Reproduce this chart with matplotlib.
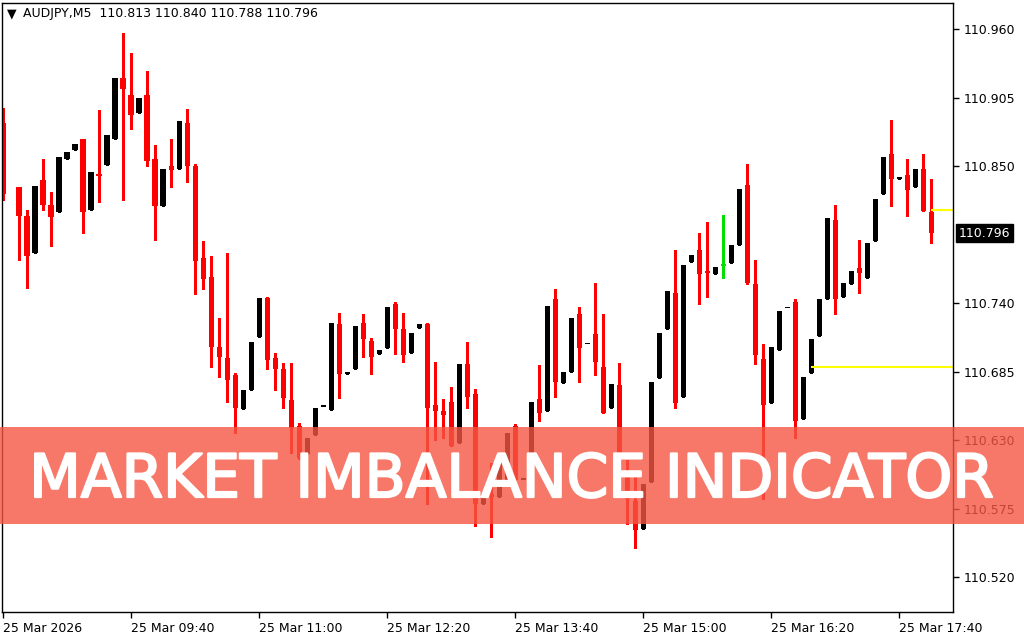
import numpy as np
import matplotlib
matplotlib.use('Agg')
import matplotlib.pyplot as plt
import matplotlib.patheffects as pe
from matplotlib.patches import Rectangle
from matplotlib.transforms import blended_transform_factory

# Chart header / axis texts
symbol = 'AUDJPY,M5'
banner_title = 'MARKET IMBALANCE INDICATOR'
time_labels = ['25 Mar 2026', '25 Mar 09:40', '25 Mar 11:00', '25 Mar 12:20',
               '25 Mar 13:40', '25 Mar 15:00', '25 Mar 16:20', '25 Mar 17:40']
time_label_bars = [0, 16, 32, 48, 64, 80, 96, 112]
price_ticks = [110.520, 110.575, 110.630, 110.685, 110.740, 110.850, 110.905, 110.960]

# M5 candles (bar 1 is empty on the chart)
opens = [110.885, np.nan, 110.833, 110.810, 110.780, 110.839, 110.819, 110.813, 110.856, 110.863,
         110.872, 110.815, 110.844, 110.851, 110.872, 110.921, 110.907, 110.893, 110.907, 110.856,
         110.818, 110.850, 110.848, 110.885, 110.850, 110.776, 110.761, 110.705, 110.696, 110.682,
         110.655, 110.670, 110.713, 110.744, 110.696, 110.687, 110.662, 110.641, 110.619, 110.634,
         110.657, 110.654, 110.723, 110.683, 110.687, 110.724, 110.710, 110.699, 110.704, 110.739,
         110.719, 110.700, 110.720, 110.723, 110.658, 110.653, 110.661, 110.628, 110.691, 110.667,
         110.579, 110.587, 110.584, 110.598, 110.641, 110.598, 110.603, 110.663, 110.653, 110.743,
         110.676, 110.685, 110.731, 110.707, 110.715, 110.689, 110.656, 110.674, 110.600, 110.581,
         110.559, 110.596, 110.680, 110.719, 110.748, 110.665, 110.773, 110.783, 110.766, 110.763,
         110.770, 110.772, 110.787, 110.835, 110.755, 110.695, 110.660, 110.702, 110.736, 110.741,
         110.647, 110.684, 110.714, 110.743, 110.807, 110.745, 110.755, 110.768, 110.760, 110.790,
         110.828, 110.860, 110.840, 110.843, 110.833, 110.848, 110.813]
highs = [110.897, np.nan, 110.833, 110.815, 110.834, 110.856, 110.829, 110.857, 110.861, 110.868,
         110.872, 110.845, 110.895, 110.875, 110.921, 110.957, 110.941, 110.905, 110.926, 110.867,
         110.848, 110.872, 110.886, 110.896, 110.852, 110.790, 110.778, 110.728, 110.780, 110.684,
         110.670, 110.709, 110.744, 110.745, 110.700, 110.692, 110.692, 110.644, 110.632, 110.656,
         110.657, 110.724, 110.732, 110.685, 110.722, 110.731, 110.712, 110.702, 110.737, 110.741,
         110.732, 110.716, 110.723, 110.724, 110.693, 110.663, 110.673, 110.691, 110.709, 110.671,
         110.587, 110.612, 110.616, 110.636, 110.643, 110.598, 110.661, 110.690, 110.738, 110.751,
         110.685, 110.728, 110.737, 110.707, 110.756, 110.731, 110.675, 110.692, 110.614, 110.600,
         110.595, 110.677, 110.716, 110.750, 110.783, 110.771, 110.779, 110.796, 110.805, 110.769,
         110.811, 110.787, 110.832, 110.852, 110.775, 110.707, 110.705, 110.734, 110.736, 110.743,
         110.681, 110.711, 110.743, 110.808, 110.819, 110.756, 110.766, 110.791, 110.788, 110.824,
         110.857, 110.887, 110.841, 110.856, 110.848, 110.860, 110.840]
lows = [110.823, np.nan, 110.775, 110.752, 110.780, 110.815, 110.786, 110.813, 110.856, 110.863,
        110.796, 110.815, 110.821, 110.851, 110.872, 110.823, 110.880, 110.893, 110.850, 110.791,
        110.818, 110.833, 110.848, 110.837, 110.747, 110.751, 110.689, 110.681, 110.661, 110.636,
        110.655, 110.670, 110.713, 110.687, 110.670, 110.656, 110.620, 110.615, 110.619, 110.634,
        110.657, 110.654, 110.664, 110.683, 110.687, 110.697, 110.683, 110.699, 110.704, 110.699,
        110.693, 110.700, 110.720, 110.579, 110.630, 110.632, 110.625, 110.628, 110.656, 110.561,
        110.579, 110.552, 110.584, 110.598, 110.598, 110.598, 110.603, 110.645, 110.653, 110.665,
        110.676, 110.685, 110.677, 110.707, 110.682, 110.652, 110.656, 110.618, 110.563, 110.543,
        110.559, 110.596, 110.680, 110.719, 110.656, 110.665, 110.773, 110.739, 110.745, 110.763,
        110.760, 110.772, 110.787, 110.755, 110.691, 110.583, 110.660, 110.702, 110.736, 110.632,
        110.647, 110.684, 110.714, 110.743, 110.731, 110.745, 110.755, 110.748, 110.760, 110.790,
        110.828, 110.818, 110.840, 110.810, 110.833, 110.814, 110.788]
closes = [110.828, np.nan, 110.810, 110.778, 110.834, 110.819, 110.809, 110.857, 110.861, 110.868,
          110.813, 110.845, 110.842, 110.875, 110.921, 110.912, 110.891, 110.905, 110.854, 110.818,
          110.848, 110.847, 110.886, 110.850, 110.774, 110.759, 110.705, 110.697, 110.678, 110.656,
          110.670, 110.709, 110.744, 110.694, 110.687, 110.664, 110.640, 110.616, 110.632, 110.656,
          110.657, 110.724, 110.683, 110.685, 110.722, 110.711, 110.697, 110.702, 110.737, 110.719,
          110.698, 110.716, 110.723, 110.656, 110.653, 110.650, 110.625, 110.691, 110.665, 110.579,
          110.587, 110.584, 110.616, 110.636, 110.598, 110.598, 110.661, 110.652, 110.738, 110.677,
          110.685, 110.728, 110.704, 110.707, 110.693, 110.652, 110.675, 110.620, 110.583, 110.558,
          110.595, 110.677, 110.716, 110.750, 110.660, 110.771, 110.779, 110.763, 110.764, 110.769,
          110.770, 110.787, 110.832, 110.756, 110.698, 110.658, 110.705, 110.734, 110.736, 110.645,
          110.681, 110.711, 110.743, 110.808, 110.743, 110.756, 110.766, 110.764, 110.788, 110.824,
          110.857, 110.840, 110.841, 110.831, 110.848, 110.814, 110.796]

# Imbalance levels (yellow lines): starting bar and price
level_start = [101, 116]
level_price = [110.689, 110.815]

BULL = '#000000'
BEAR = '#FF0000'
DOJI = '#00E000'
LEVEL = '#FFFF00'

o = np.array(opens)
h = np.array(highs)
l = np.array(lows)
c = np.array(closes)
x = np.arange(len(o))
ok = ~np.isnan(o)

colors = []
for oo, hh, ll, cc in zip(o, h, l, c):
    if oo == cc and hh > ll:
        colors.append(DOJI)
    elif cc >= oo:
        colors.append(BULL)
    else:
        colors.append(BEAR)
colors = np.array(colors)

fig = plt.figure(figsize=(10.24, 6.4), dpi=100)
ax = fig.add_axes([2 / 1024, 28 / 640, 951 / 1024, 609 / 640])

# wicks + bodies
ax.vlines(x[ok], l[ok], h[ok], colors=list(colors[ok]), linewidth=0.8, antialiased=False)
body_lo = np.minimum(o, c)
body_h = np.maximum(np.abs(c - o), 0.0012)
ax.bar(x[ok], body_h[ok], bottom=body_lo[ok], width=0.7, color=list(colors[ok]),
       linewidth=0, antialiased=False)

x_right = 118.7
for start, price in zip(level_start, level_price):
    ax.hlines(price, start, x_right, colors=LEVEL, linewidth=1.5)

ax.set_xlim(-0.16, x_right)
ax.set_ylim(110.492, 110.981)

ax.yaxis.tick_right()
ax.set_yticks(price_ticks)
ax.set_yticklabels([f'{p:.3f}' for p in price_ticks])
ax.set_xticks(time_label_bars)
ax.set_xticklabels(time_labels, ha='left')
ax.tick_params(axis='both', direction='out', length=4, width=1, labelsize=9,
               colors='black')
ax.tick_params(axis='y', pad=4)
ax.tick_params(axis='x', pad=3)
for sp in ax.spines.values():
    sp.set_linewidth(1.0)

# current price tag
tr = blended_transform_factory(ax.transAxes, ax.transData)
ax.text(1.006, c[-1], f'{c[-1]:.3f}', transform=tr, ha='left', va='center',
        fontsize=9, color='white', clip_on=False,
        bbox=dict(boxstyle='square,pad=0.2', fc='black', ec='black'))

# header
fig.text(7 / 1024, 1 - 14 / 640, '\u25bc', fontsize=9, va='center', ha='left')
fig.text(23 / 1024, 1 - 14 / 640,
         f'{symbol}  {o[-1]:.3f} {h[-1]:.3f} {l[-1]:.3f} {c[-1]:.3f}',
         fontsize=9, va='center', ha='left')

# banner over the chart
fig.add_artist(Rectangle((0, 1 - 524 / 640), 1, 97 / 640, transform=fig.transFigure,
                         facecolor='#F55642', alpha=0.8, linewidth=0, zorder=10))
fig.text(0.5, 1 - 497 / 640, banner_title, ha='center', va='baseline',
         fontsize=43, color='white', zorder=11,
         path_effects=[pe.withStroke(linewidth=1.6, foreground='white')])

fig.savefig('out.png', dpi=100)
